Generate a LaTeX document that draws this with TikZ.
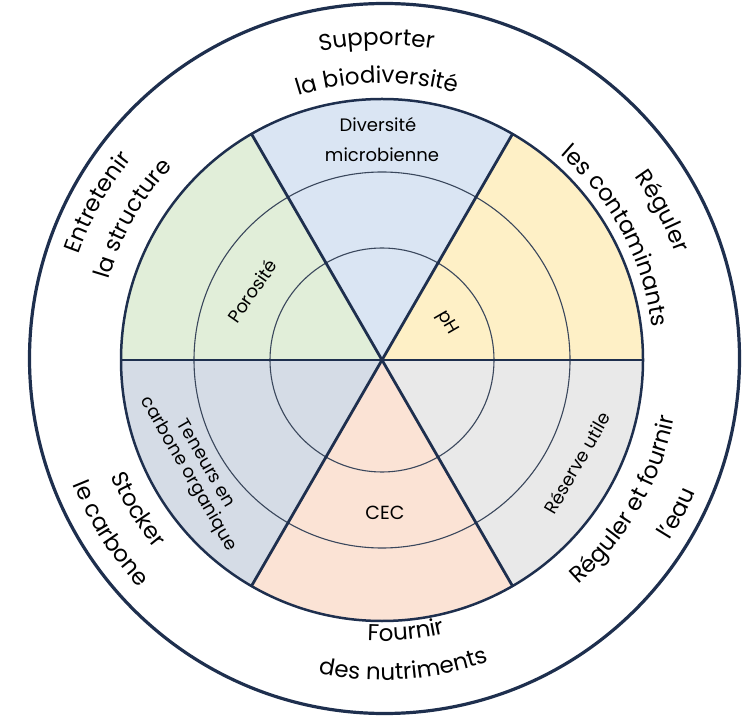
\documentclass[tikz,border=0pt]{standalone}
\usepackage{fontspec}
\setmainfont{Poppins}
\usetikzlibrary{decorations.text}
\definecolor{navy}{HTML}{1E2F4E}
\definecolor{ring}{HTML}{3A475C}
\definecolor{fblue}{HTML}{DAE5F3}
\definecolor{fyellow}{HTML}{FEF0C6}
\definecolor{fgreen}{HTML}{E1EED9}
\definecolor{fslate}{HTML}{D5DCE6}
\definecolor{fpeach}{HTML}{FBE3D5}
\definecolor{fgray}{HTML}{E9E9E9}
\newcommand\outfont{\fontsize{23}{27}\selectfont}
% #1 start angle, #2 end angle, #3 radius, #4 text
\newcommand\arclabel[4]{%
  \path[decorate, decoration={text along path, text align=center,
     text={|\outfont|#4}}]
     ([shift={(#1:#3)}]C) arc[start angle=#1, end angle=#2, radius=#3];}
\begin{document}
\begin{tikzpicture}[x=1pt,y=1pt,
  innerlbl/.style={font=\fontsize{18}{21}\selectfont, text=black, inner sep=0pt}]
\useasboundingbox (0,0) rectangle (749,718);
\coordinate (C) at (382,358);
% sectors
\fill[fyellow] (C) -- ++(0:261pt) arc[start angle=0,end angle=60,radius=261pt] -- cycle;
\fill[fblue]   (C) -- ++(60:261pt) arc[start angle=60,end angle=120,radius=261pt] -- cycle;
\fill[fgreen]  (C) -- ++(120:261pt) arc[start angle=120,end angle=180,radius=261pt] -- cycle;
\fill[fslate]  (C) -- ++(180:261pt) arc[start angle=180,end angle=240,radius=261pt] -- cycle;
\fill[fpeach]  (C) -- ++(240:261pt) arc[start angle=240,end angle=300,radius=261pt] -- cycle;
\fill[fgray]   (C) -- ++(300:261pt) arc[start angle=300,end angle=360,radius=261pt] -- cycle;
% rings
\draw[ring, line width=1.1pt] (C) circle[radius=112pt];
\draw[ring, line width=1.1pt] (C) circle[radius=188pt];
% spokes
\foreach \a in {0,60,120,180,240,300}
  \draw[navy, line width=2.8pt] (C) -- ++(\a:261pt);
\draw[navy, line width=2.5pt] (C) circle[radius=261pt];
% outer circle
\draw[navy, line width=3.2pt] (384.5,359.5) circle[radius=355pt];
% outer labels (curved)
\arclabel{136}{46}{315pt}{Supporter}
\arclabel{136}{46}{277pt}{la biodiversité}
\arclabel{196}{106}{321pt}{Entretenir}
\arclabel{195.5}{105.5}{285pt}{la structure}
\arclabel{73}{-17}{312pt}{Réguler}
\arclabel{73}{-17}{272pt}{les contaminants}
\arclabel{166.5}{256.5}{295pt}{Stocker}
\arclabel{167.5}{257.5}{333pt}{le carbone}
\arclabel{230}{320}{281pt}{Fournir}
\arclabel{229}{319}{320pt}{des nutriments}
\arclabel{285}{375}{298pt}{Réguler et fournir}
\arclabel{287.5}{377.5}{340pt}{l'eau}
% inner labels
\node[innerlbl] (i1a) at (378,593) {Diversité};
\node[innerlbl] (i1b) at (382,563) {microbienne};
\node[innerlbl, rotate=55] (i2) at (252,427) {Porosité};
\node[innerlbl, rotate=-60] (i3) at (447,395) {pH};
\node[innerlbl, rotate=-60] (i4a) at (207,255) {Teneurs en};
\node[innerlbl, rotate=-60] (i4b) at (188,244) {carbone organique};
\node[innerlbl, font=\fontsize{19}{22}\selectfont] (i5) at (385,205) {CEC};
\node[innerlbl, rotate=60] (i6) at (577,255) {Réserve utile};
\end{tikzpicture}
\end{document}
